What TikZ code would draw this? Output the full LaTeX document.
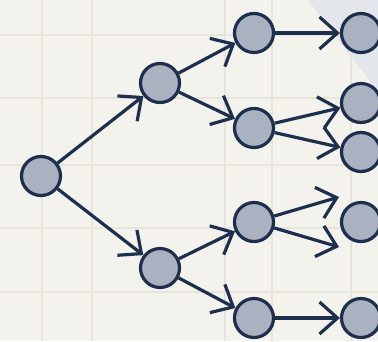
\documentclass[tikz,border=0pt]{standalone}
\usetikzlibrary{arrows.meta}
\definecolor{bgc}{HTML}{F3F2EC}
\definecolor{gridc}{HTML}{E6E4DB}
\definecolor{shadec}{HTML}{E3E6EA}
\definecolor{navy}{HTML}{1E2F4D}
\definecolor{fillc}{HTML}{AAB1C1}
\tikzset{
  treenode/.style={circle, draw=navy, fill=fillc, line width=3.2pt, minimum size=39pt, inner sep=0pt},
  link/.style={draw=navy, line width=3.2pt, -{Straight Barb[length=18pt, width=32pt, line width=3.2pt]}},
  gridline/.style={draw=gridc, line width=1.2pt}
}
\begin{document}
\begin{tikzpicture}[x=1pt, y=-1pt]
\useasboundingbox (0,0) rectangle (378,341);
\fill[bgc] (0,0) rectangle (378,341);
\foreach \yy in {35,98,165,228,292} \draw[gridline] (0,\yy) -- (378,\yy);
\foreach \xx in {42,92,225,272,351} \draw[gridline] (\xx,0) -- (\xx,341);
\fill[shadec] (308,0) -- (378,0) -- (378,92) -- cycle;

\node[treenode] (r) at (41,176) {};
\node[treenode] (a) at (160,83) {};
\node[treenode] (b) at (160,268) {};
\node[treenode] (a1) at (254,33) {};
\node[treenode] (a2) at (254,128) {};
\node[treenode] (b1) at (254,222) {};
\node[treenode] (b2) at (254,318) {};
\node[treenode] (c1) at (361,33) {};
\node[treenode] (c2) at (361,103) {};
\node[treenode] (c3) at (361,152) {};
\node[treenode] (c4) at (361,222) {};
\node[treenode] (c5) at (361,318) {};
\coordinate (f1) at (339,197);
\coordinate (f2) at (339,247);

\draw[link] (r) -- (a);
\draw[link] (r) -- (b);
\draw[link] (a) -- (a1);
\draw[link] (a) -- (a2);
\draw[link] (b) -- (b1);
\draw[link] (b) -- (b2);
\draw[link] (a1) -- (c1);
\draw[link] (a2) -- (c2);
\draw[link] (a2) -- (c3);
\draw[link] (b1) -- (f1);
\draw[link] (b1) -- (f2);
\draw[link] (b2) -- (c5);
\end{tikzpicture}
\end{document}
